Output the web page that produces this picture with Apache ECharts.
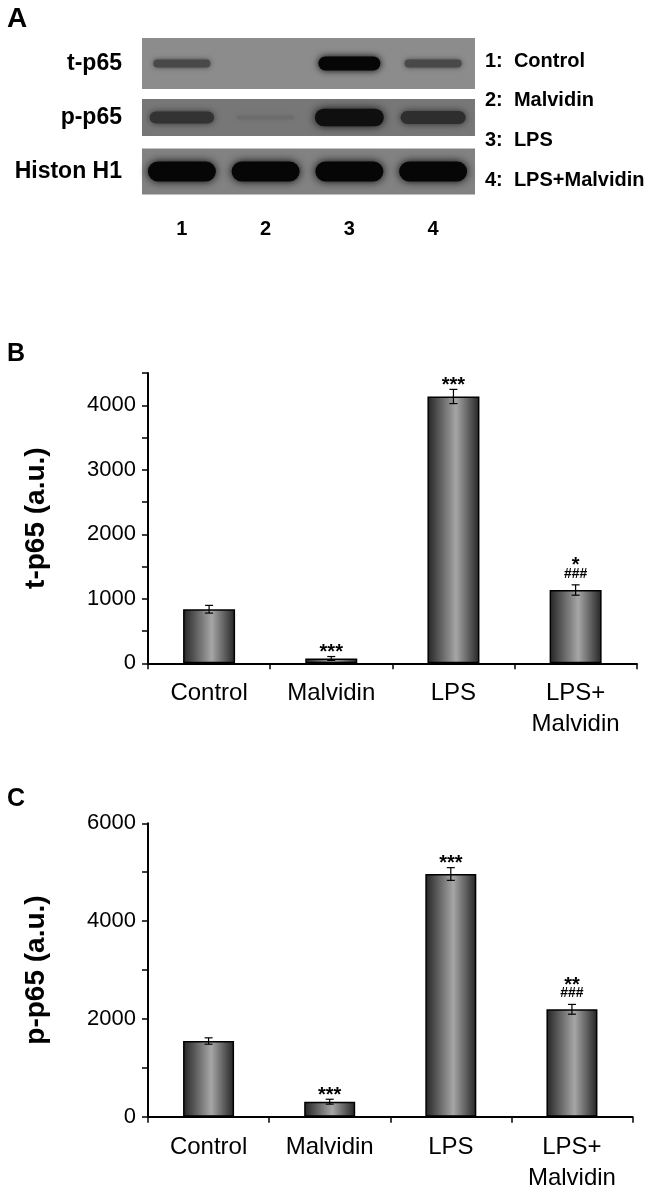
<!DOCTYPE html>
<html><head><meta charset="utf-8">
<script src="https://cdn.jsdelivr.net/npm/echarts@6/dist/echarts.min.js"></script>
<style>html,body{margin:0;padding:0;background:#fff}#c{width:651px;height:1194px}</style>
</head><body><div id="c"></div>
<script>
// ---------- data ----------
const categories = ['Control', 'Malvidin', 'LPS', 'LPS+\nMalvidin'];
const tP65 = [838, 75, 4136, 1136];
const tP65Err = [60, 30, 110, 80];
const tP65Stars = ['', '***', '***', '*'];
const tP65Hash = ['', '', '', '###'];
const pP65 = [1548, 307, 4963, 2196];
const pP65Err = [65, 50, 130, 100];
const pP65Stars = ['', '***', '***', '**'];
const pP65Hash = ['', '', '', '###'];
const lanes = ['1', '2', '3', '4'];
const laneNames = ['Control', 'Malvidin', 'LPS', 'LPS+Malvidin'];
const blotRows = ['t-p65', 'p-p65', 'Histon H1'];
// relative band intensity (0..1) per blot row, per lane
const tBand = [0.5, 0.0, 1.0, 0.5];
const pBand = [0.6, 0.1, 0.92, 0.65];
const hBand = [1.0, 1.0, 1.0, 1.0];

// ---------- styles ----------
const FONT = 'Liberation Sans, Arial, Helvetica, sans-serif';
const rowBg = ['#8c8c8c', '#777777', '#828282'];
const rowBoxFrac = [0.944, 0.685, 0.85];
const rowThick = [[2, 12], [2, 17], [20, 0]];
const rowWid = [[52, 10], [56, 14], [68, 0]];

const bandData = [];
[tBand, pBand, hBand].forEach((arr, r) => arr.forEach((v, l) => bandData.push([l, r, v])));

const barGrad = () => new echarts.graphic.LinearGradient(0, 0, 1, 0, [
  {offset: 0, color: '#242424'}, {offset: 0.55, color: '#a6a6a6'}, {offset: 1, color: '#242424'}
]);

function errSeries(idx, vals, errs, stars, hashes) {
  return {
    type: 'custom', xAxisIndex: idx, yAxisIndex: idx, z: 5,
    data: vals.map((v, i) => [i, v, errs[i]]),
    renderItem(params, api) {
      const i = params.dataIndex;
      const x = api.value(0), v = api.value(1), e = api.value(2);
      const t = api.coord([x, v + e]), b = api.coord([x, v - e]);
      const cw = 4;
      const ls = {stroke: '#000', lineWidth: 1.2};
      const ch = [
        {type: 'line', shape: {x1: t[0], y1: t[1], x2: b[0], y2: b[1]}, style: ls},
        {type: 'line', shape: {x1: t[0] - cw, y1: t[1], x2: t[0] + cw, y2: t[1]}, style: ls},
        {type: 'line', shape: {x1: b[0] - cw, y1: b[1], x2: b[0] + cw, y2: b[1]}, style: ls}
      ];
      const h = hashes[i], s = stars[i];
      if (h) ch.push({type: 'text', x: t[0], y: t[1] - 11,
        style: {text: h, font: 'bold 14px ' + FONT, fill: '#000', align: 'center', verticalAlign: 'middle'}});
      if (s) ch.push({type: 'text', x: t[0], y: t[1] - (h ? 19 : 4),
        style: {text: s, font: 'bold 20px ' + FONT, fill: '#000', align: 'center', verticalAlign: 'middle'}});
      return {type: 'group', children: ch};
    }
  };
}

function catAxis(idx) {
  return {
    type: 'category', gridIndex: idx, data: categories, boundaryGap: true,
    axisLine: {show: true, lineStyle: {color: '#000', width: 2}},
    axisTick: {show: true, length: 6, inside: false, alignWithLabel: false, lineStyle: {color: '#000', width: 1.5}},
    axisLabel: {color: '#000', fontSize: 24, fontFamily: FONT, margin: 15, lineHeight: 31, interval: 0}
  };
}
function valAxis(idx, max, interval, labelStep, name) {
  return {
    type: 'value', gridIndex: idx, min: 0, max: max, interval: interval,
    axisLine: {show: true, lineStyle: {color: '#000', width: 2}},
    axisTick: {show: true, length: 6, inside: false, lineStyle: {color: '#000', width: 1.5}},
    splitLine: {show: false},
    axisLabel: {color: '#000', fontSize: 22, fontFamily: FONT, margin: 12,
      formatter: v => (v % labelStep === 0) ? String(v) : ''},
    name: name, nameLocation: 'middle', nameGap: 98,
    nameTextStyle: {color: '#000', fontSize: 28, fontWeight: 'bold', fontFamily: FONT}
  };
}

const chart = echarts.init(document.getElementById('c'), null, {renderer: 'canvas'});
const option = {
  animation: false,
  backgroundColor: '#fff',
  textStyle: {fontFamily: FONT},
  grid: [
    {left: 148, top: 373, width: 488.7, height: 290.3},
    {left: 148, top: 823.3, width: 484.5, height: 293.4},
    {left: 140, top: 36.5, width: 335, height: 162}
  ],
  xAxis: [
    catAxis(0), catAxis(1),
    {type: 'category', gridIndex: 2, data: lanes, axisLine: {show: false}, axisTick: {show: false},
     axisLabel: {color: '#000', fontSize: 20, fontWeight: 'bold', fontFamily: FONT, margin: 21}}
  ],
  yAxis: [
    valAxis(0, 4500, 500, 1000, 't-p65 (a.u.)'),
    valAxis(1, 6000, 1000, 2000, 'p-p65 (a.u.)'),
    {type: 'category', gridIndex: 2, data: blotRows, inverse: true, axisLine: {show: false}, axisTick: {show: false},
     axisLabel: {color: '#000', fontSize: 23, fontWeight: 'bold', fontFamily: FONT, margin: 18}}
  ],
  series: [
    {type: 'bar', xAxisIndex: 0, yAxisIndex: 0, data: tP65, barWidth: 52,
     itemStyle: {color: barGrad(), borderColor: '#000', borderWidth: 1.5}},
    errSeries(0, tP65, tP65Err, tP65Stars, tP65Hash),
    {type: 'bar', xAxisIndex: 1, yAxisIndex: 1, data: pP65, barWidth: 51,
     itemStyle: {color: barGrad(), borderColor: '#000', borderWidth: 1.5}},
    errSeries(1, pP65, pP65Err, pP65Stars, pP65Hash),
    // blot membrane strips
    {type: 'custom', xAxisIndex: 2, yAxisIndex: 2, z: 1,
     data: blotRows.map((n, r) => [0, r]),
     renderItem(params, api) {
       const r = params.dataIndex;
       const cs = params.coordSys;
       const c = api.coord([0, r]);
       const h = api.size([0, 1])[1] * rowBoxFrac[r];
       return {type: 'rect', shape: {x: cs.x + 2, y: c[1] - h / 2, width: cs.width - 2, height: h},
         style: {fill: rowBg[r]}};
     }},
    // bands
    {type: 'custom', xAxisIndex: 2, yAxisIndex: 2, z: 2,
     data: bandData,
     renderItem(params, api) {
       const l = api.value(0), r = api.value(1), v = api.value(2);
       if (v <= 0.01) return null;
       const c = api.coord([l, r]);
       const th = Math.max(2, rowThick[r][0] + rowThick[r][1] * v);
       const w = rowWid[r][0] + rowWid[r][1] * v;
       const bg = parseInt(rowBg[r].slice(1, 3), 16);
       const g = Math.round(bg - (bg - 6) * v);
       const col = 'rgb(' + g + ',' + g + ',' + g + ')';
       return {type: 'rect', shape: {x: c[0] - w / 2, y: c[1] - th / 2, width: w, height: th, r: th / 2},
         style: {fill: col, shadowBlur: 3 + th * 0.3, shadowColor: col}};
     }}
  ],
  graphic: [
    {type: 'text', left: 7, top: 5, style: {text: 'A', font: 'bold 28px ' + FONT, fill: '#000'}},
    {type: 'text', left: 7, top: 342, style: {text: 'B', font: 'bold 25px ' + FONT, fill: '#000'}},
    {type: 'text', left: 7, top: 787, style: {text: 'C', font: 'bold 25px ' + FONT, fill: '#000'}}
  ].concat(laneNames.map((n, i) => ({
    type: 'text', x: 485, y: 61 + i * 39.7,
    style: {text: lanes[i] + ':  ' + n, font: 'bold 20px ' + FONT, fill: '#000', verticalAlign: 'middle'}
  })))
};
chart.setOption(option);
</script>
</body></html>
